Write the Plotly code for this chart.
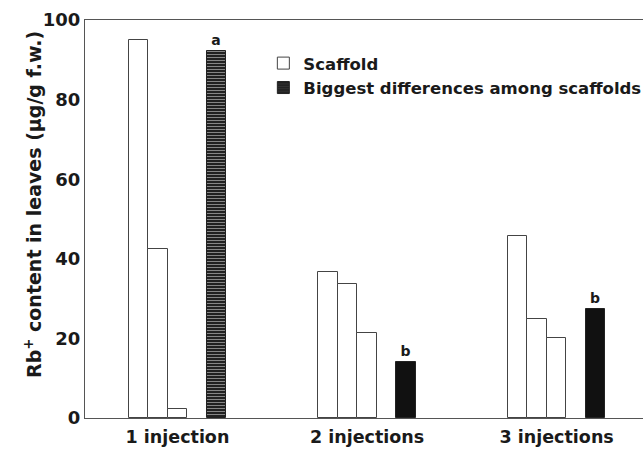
import plotly.graph_objects as go

groups = ["1 injection", "2 injections", "3 injections"]
scaffold_1 = [95.0, 36.7, 45.7]
scaffold_2 = [42.5, 33.7, 24.8]
scaffold_3 = [2.3, 21.3, 20.2]
biggest = [92.2, 14.1, 27.3]
sig_letters = ["a", "b", "b"]
y_title = "Rb<sup>+</sup> content in leaves (µg/g f.w.)"

GROUP_STEP = 9.72
FONT = "DejaVu Sans"
INK = "#1a1a1a"

fig = go.Figure()

white_x, white_y = [], []
for g in range(len(groups)):
    for j, series in enumerate([scaffold_1, scaffold_2, scaffold_3]):
        white_x.append(g * GROUP_STEP + j)
        white_y.append(series[g])

fig.add_trace(go.Bar(
    x=white_x, y=white_y, width=1.0,
    name="Scaffold",
    marker=dict(color="white", line=dict(color="#444", width=1)),
))

black_x = [g * GROUP_STEP + 4 for g in range(len(groups))]
fig.add_trace(go.Bar(
    x=black_x, y=biggest, width=1.0,
    name="Biggest differences among scaffolds",
    marker=dict(
        color=["#222222", "#111111", "#111111"],
        line=dict(color="#222", width=1),
        pattern=dict(shape=["-", "", ""], fgcolor="#4a4a4a", size=3, solidity=0.3, fillmode="overlay"),
    ),
    text=sig_letters, textposition="outside", cliponaxis=False,
    textfont=dict(family=FONT, size=14, color=INK, weight="bold"),
))

fig.update_layout(
    width=700, height=453,
    margin=dict(l=85, r=0, t=20, b=35),
    paper_bgcolor="white", plot_bgcolor="white",
    font=dict(family=FONT, color=INK),
    bargap=0,
    showlegend=True,
    legend=dict(
        x=0.29, y=0.935, xanchor="left", yanchor="top",
        bgcolor="rgba(0,0,0,0)",
        font=dict(family=FONT, size=16.5, color=INK, weight="bold"),
        tracegroupgap=0,
    ),
    xaxis=dict(
        range=[-2.74, 28.79],
        tickvals=[g * GROUP_STEP + 2 for g in range(len(groups))],
        ticktext=groups,
        tickfont=dict(family=FONT, size=17.5, color=INK, weight="bold"),
        ticklabelstandoff=3,
        showline=True, mirror=True, linecolor="#555", linewidth=1,
        showgrid=False, zeroline=False, ticks="",
    ),
    yaxis=dict(
        range=[0, 100],
        tickvals=[0, 20, 40, 60, 80, 100],
        tickfont=dict(family=FONT, size=18, color=INK, weight="bold"),
        showline=True, linecolor="#555", linewidth=1,
        showgrid=False, zeroline=False, ticks="",
    ),
    annotations=[dict(
        text=y_title, textangle=-90,
        xref="paper", yref="paper", x=-0.0846, y=0.5377,
        xanchor="center", yanchor="middle", showarrow=False,
        font=dict(family=FONT, size=19, color=INK, weight="bold"),
    )],
)

fig.write_html(
    "out.html",
    config={"displayModeBar": False},
    post_script="document.body.style.margin='0px';document.body.style.overflow='hidden';",
)
